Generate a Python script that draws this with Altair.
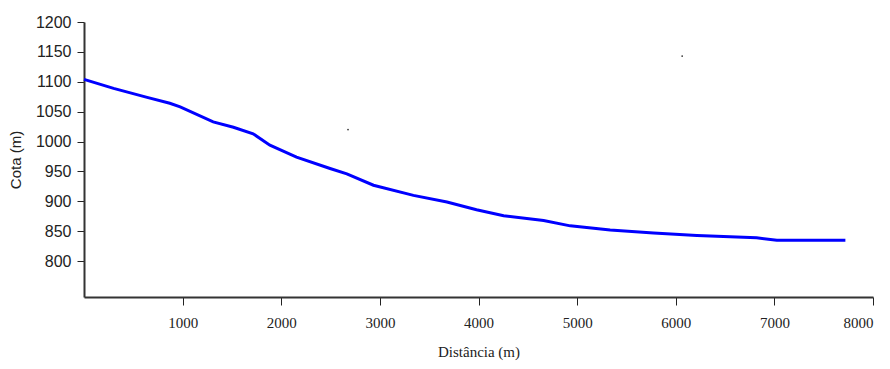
import altair as alt
import pandas as pd

# Profile data
dist = [0, 300, 640, 870, 975, 1310, 1515, 1715, 1885, 2155, 2495, 2665, 2935,
        3340, 3680, 3980, 4255, 4660, 4930, 5335, 5775, 6215, 6820, 7025, 7720]
cota = [1104, 1089, 1074, 1064, 1058, 1033, 1024, 1013, 994, 974, 955, 946, 927,
        910, 899, 886, 876, 868, 859, 852, 847, 843, 839, 835, 835]

# stray specks visible in the scan
speck_x = [2677, 6065]
speck_y = [1020, 1143]

x_ticks = [1000, 2000, 3000, 4000, 5000, 6000, 7000, 8000]
y_ticks = [800, 850, 900, 950, 1000, 1050, 1100, 1150, 1200]

df = pd.DataFrame({"dist": dist, "cota": cota})
sp = pd.DataFrame({"dist": speck_x, "cota": speck_y})

x_enc = alt.X(
    "dist:Q",
    scale=alt.Scale(domain=[0, 8000], nice=False, zero=False),
    axis=alt.Axis(
        title="Distância (m)",
        values=x_ticks,
        format="d",
        grid=False,
        labelOverlap=False,
        labelFont="Liberation Serif",
        labelFontSize=15,
        labelColor="#222222",
        labelPadding=10,
        labelAlign=alt.ExprRef("datum.value == 8000 ? 'right' : 'center'"),
        tickSize=8,
        tickColor="#222222",
        domainColor="#333333",
        domainWidth=2,
        titleFont="Liberation Serif",
        titleFontSize=15,
        titleFontWeight="normal",
        titleColor="#222222",
        titlePadding=14,
        labelFlush=False,
    ),
)
y_enc = alt.Y(
    "cota:Q",
    scale=alt.Scale(domain=[740, 1200], nice=False, zero=False),
    axis=alt.Axis(
        title="Cota (m)",
        values=y_ticks,
        format="d",
        grid=False,
        labelOverlap=False,
        labelFont="Liberation Sans",
        labelFontSize=16,
        labelColor="#222222",
        labelPadding=6,
        tickSize=7,
        tickColor="#222222",
        domainColor="#333333",
        domainWidth=2,
        titleFont="Liberation Sans",
        titleFontSize=15,
        titleFontWeight="normal",
        titleColor="#222222",
        titlePadding=12,
        labelFlush=False,
    ),
)

line = alt.Chart(df).mark_line(color="#0000FF", strokeWidth=3).encode(x=x_enc, y=y_enc)
specks = alt.Chart(sp).mark_point(filled=True, color="#333333", size=3, opacity=1).encode(
    x=x_enc, y=y_enc
)

chart = (
    alt.layer(line, specks)
    .properties(
        width=789,
        height=275,
        autosize=alt.AutoSizeParams(type="none"),
        padding={"left": 76, "top": 14, "right": 9, "bottom": 64},
        background="white",
    )
    .configure_view(stroke=None)
)

chart.save("out.html", embed_options={"renderer": "svg", "actions": False})
